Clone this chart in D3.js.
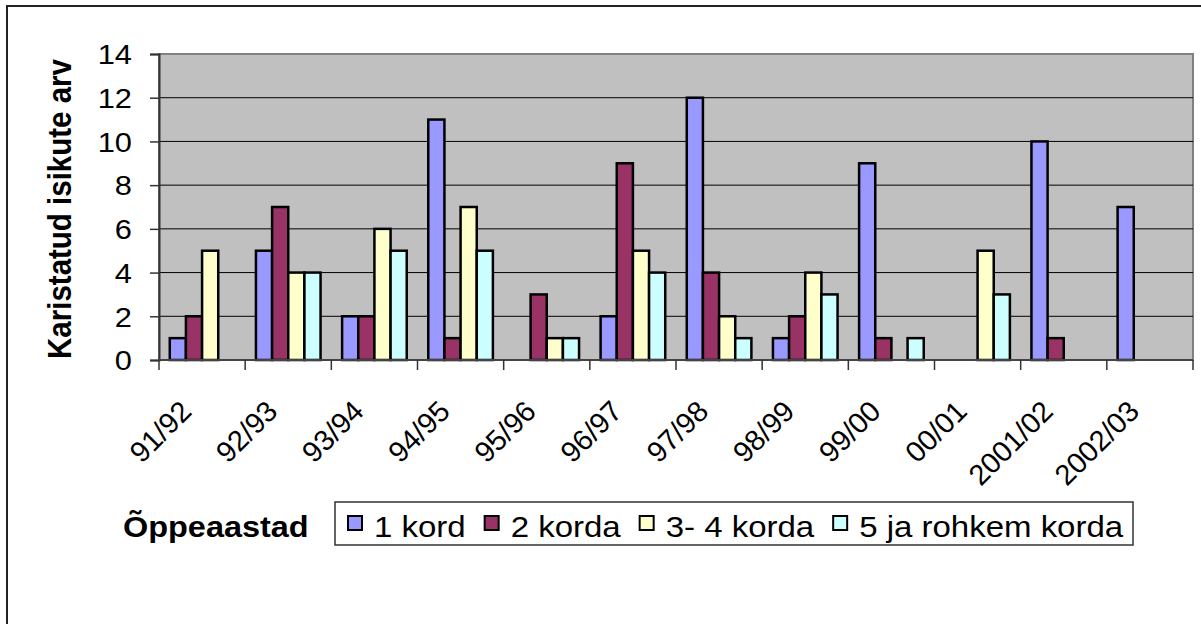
<!DOCTYPE html>
<html>
<head>
<meta charset="utf-8">
<script src="https://cdn.jsdelivr.net/npm/d3@7"></script>
<style>
  body { margin: 0; background: #fff; }
  text { font-family: "Liberation Sans", Arial, sans-serif; fill: #000; }
</style>
</head>
<body>
<svg id="chart" width="1201" height="624"></svg>
<script>
// data
var years = ["91/92", "92/93", "93/94", "94/95", "95/96", "96/97", "97/98", "98/99", "99/00", "00/01", "2001/02", "2002/03"];
var seriesNames = ["1 kord", "2 korda", "3- 4 korda", "5 ja rohkem korda"];
var kord1 = [1, 5, 2, 11, 0, 2, 12, 1, 9, 0, 10, 7];
var korda2 = [2, 7, 2, 1, 3, 9, 4, 2, 1, 0, 1, 0];
var korda34 = [5, 4, 6, 7, 1, 5, 2, 4, 0, 5, 0, 0];
var korda5 = [0, 4, 5, 5, 1, 4, 1, 3, 1, 3, 0, 0];
var yTicks = [0, 2, 4, 6, 8, 10, 12, 14];

var colors = ["#9999FF", "#993366", "#FFFFCC", "#CCFFFF"];
var allSeries = [kord1, korda2, korda34, korda5];

drawChart();

function drawChart() {
    var svg = d3.select("#chart");
    var sx = 1.1; // text in the picture is a bit wider than it is tall

    // outer chart border
    svg.append("rect")
        .attr("x", 7).attr("y", 6)
        .attr("width", 1400).attr("height", 800)
        .attr("fill", "#fff")
        .attr("stroke", "#222")
        .attr("stroke-width", 2);

    var pL = 159, pR = 1193, pT = 54, pB = 360;

    var x0 = d3.scaleBand().domain(years).range([pL, pR]).padding(0);
    var bw = x0.bandwidth();
    var x1 = d3.scaleBand().domain(d3.range(4)).range([bw * 0.125, bw * 0.875]).padding(0);
    var y = d3.scaleLinear().domain([0, 14]).range([pB, pT]);

    // plot area
    svg.append("rect")
        .attr("x", pL).attr("y", pT)
        .attr("width", pR - pL).attr("height", pB - pT)
        .attr("fill", "#C0C0C0")
        .attr("stroke", "#808080")
        .attr("stroke-width", 2);

    // gridlines
    svg.append("g")
        .selectAll("line")
        .data(yTicks.filter(function(d) { return d > 0 && d < 14; }))
        .enter()
        .append("line")
        .attr("x1", pL).attr("x2", pR)
        .attr("y1", function(d) { return y(d); })
        .attr("y2", function(d) { return y(d); })
        .attr("stroke", "#000")
        .attr("stroke-width", 1);

    // bars
    var rows = [];
    years.forEach(function(yr, i) {
        allSeries.forEach(function(s, k) {
            if (s[i] > 0) rows.push({ year: yr, k: k, v: s[i] });
        });
    });

    svg.append("g")
        .selectAll("rect")
        .data(rows)
        .enter()
        .append("rect")
        .attr("x", function(d) { return x0(d.year) + x1(d.k); })
        .attr("y", function(d) { return y(d.v); })
        .attr("width", x1.bandwidth())
        .attr("height", function(d) { return y(0) - y(d.v); })
        .attr("fill", function(d) { return colors[d.k]; })
        .attr("stroke", "#000")
        .attr("stroke-width", 2.5);

    // y axis
    var yAxis = svg.append("g")
        .attr("transform", "translate(" + pL + ",0)")
        .call(d3.axisLeft(y).tickValues(yTicks).tickSize(9).tickFormat(d3.format("d")));
    yAxis.select(".domain").attr("stroke", "#333").attr("stroke-width", 2);
    yAxis.selectAll(".tick line").attr("stroke", "#333").attr("stroke-width", 1.5);
    yAxis.selectAll(".tick text")
        .attr("x", -27 / sx)
        .attr("dy", "0.35em")
        .attr("transform", "scale(" + sx + ",1)")
        .attr("font-family", null)
        .attr("font-size", null)
        .style("font-size", "28px");

    // x axis line and ticks at category edges
    svg.append("line")
        .attr("x1", pL).attr("x2", pR)
        .attr("y1", pB).attr("y2", pB)
        .attr("stroke", "#444").attr("stroke-width", 2);

    svg.append("g")
        .selectAll("line")
        .data(years.concat(["end"]))
        .enter()
        .append("line")
        .attr("x1", function(d, i) { return pL + i * bw; })
        .attr("x2", function(d, i) { return pL + i * bw; })
        .attr("y1", pB).attr("y2", pB + 10)
        .attr("stroke", "#333").attr("stroke-width", 1.5);

    // x labels, rotated
    svg.append("g")
        .selectAll("text")
        .data(years)
        .enter()
        .append("text")
        .attr("transform", function(d) {
            return "translate(" + (x0(d) + bw / 2 - 9) + ",413) rotate(-45)";
        })
        .attr("text-anchor", "end")
        .style("font-size", "29px")
        .text(function(d) { return d; });

    // y title
    svg.append("text")
        .attr("transform", "translate(71,209) scale(" + sx + ",1) rotate(-90)")
        .attr("text-anchor", "middle")
        .style("font-size", "29.5px")
        .style("font-weight", "bold")
        .text("Karistatud isikute arv");

    // x title
    svg.append("text")
        .attr("transform", "translate(123,537) scale(" + sx + ",1)")
        .style("font-size", "29.5px")
        .style("font-weight", "bold")
        .text("Õppeaastad");

    // legend
    var legend = svg.append("g");
    legend.append("rect")
        .attr("x", 335).attr("y", 502)
        .attr("width", 798).attr("height", 43)
        .attr("fill", "#fff")
        .attr("stroke", "#333")
        .attr("stroke-width", 1.5);

    var lx = 348;
    seriesNames.forEach(function(name, k) {
        legend.append("rect")
            .attr("x", lx).attr("y", 516)
            .attr("width", 14).attr("height", 14)
            .attr("fill", colors[k])
            .attr("stroke", "#000")
            .attr("stroke-width", 2);
        var t = legend.append("text")
            .attr("transform", "translate(" + (lx + 26) + ",537) scale(" + sx + ",1)")
            .style("font-size", "30px")
            .text(name);
        lx += 26 + t.node().getComputedTextLength() * sx + 19;
    });
}
</script>
</body>
</html>
